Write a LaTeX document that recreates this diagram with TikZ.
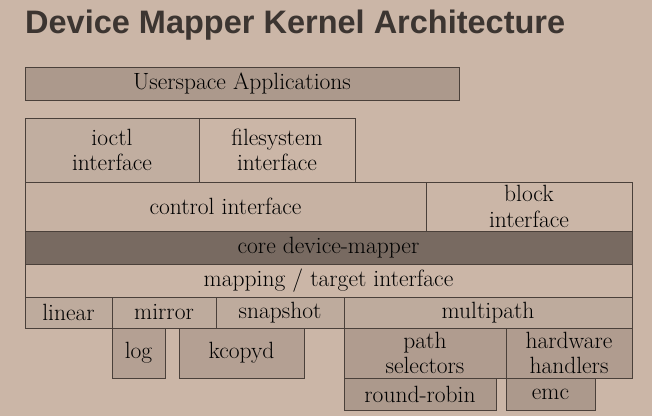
\documentclass[tikz,border=0pt]{standalone}
\usepackage{fontspec}
\newfontfamily\headfont{Liberation Sans}
\usetikzlibrary{positioning}
\definecolor{PaperTan}{HTML}{CBB6A7}
\definecolor{EdgeBrown}{HTML}{4A403A}
\definecolor{HeadGray}{HTML}{3C3531}
\definecolor{AppTan}{HTML}{AC998C}
\definecolor{IoctlTan}{HTML}{C1AEA0}
\definecolor{CtrlTan}{HTML}{C7B2A3}
\definecolor{CoreBrown}{HTML}{786A61}
\definecolor{TargetTan}{HTML}{BEAB9D}
\definecolor{HelperTan}{HTML}{B4A093}
\definecolor{PathTan}{HTML}{B09C8F}

\begin{document}
\begin{tikzpicture}[
  x=1pt, y=-1pt,
  layer/.style={draw=EdgeBrown, line width=0.9pt, inner sep=0pt, outer sep=0pt,
    anchor=north west, align=center, text=black,
    font=\rmfamily\fontsize{23.5}{25.5}\selectfont},
  heading/.style={anchor=base west, inner sep=0pt, text=HeadGray,
    font=\headfont\bfseries\fontsize{32.5}{36}\selectfont}
]
\fill[PaperTan] (0,0) rectangle (652,416);
\useasboundingbox (0,0) rectangle (652,416);

\node[heading] (title) at (25,33.5) {Device Mapper Kernel Architecture};

% userspace
\node[layer, fill=AppTan, minimum width=434pt, minimum height=33pt] (apps) at (25,67)
  {Userspace Applications};

% interfaces
\node[layer, fill=IoctlTan, minimum width=174pt, minimum height=64pt] (ioctl) at (25,118)
  {ioctl\\interface};
\node[layer, fill=PaperTan, minimum width=156pt, minimum height=64pt] (fsys) at (ioctl.north east)
  {filesystem\\interface};
\node[layer, fill=CtrlTan, minimum width=401pt, minimum height=49pt] (control) at (ioctl.south west)
  {control interface};
\node[layer, fill=PaperTan, minimum width=206pt, minimum height=49pt] (block) at (control.north east)
  {block\\interface};

% core
\node[layer, fill=CoreBrown, minimum width=607pt, minimum height=33pt] (core) at (control.south west)
  {core device-mapper};
\node[layer, fill=PaperTan, minimum width=607pt, minimum height=33pt] (mapping) at (core.south west)
  {mapping / target interface};

% targets
\node[layer, fill=TargetTan, minimum width=87pt, minimum height=31pt] (linear) at (mapping.south west)
  {linear};
\node[layer, fill=TargetTan, minimum width=104pt, minimum height=31pt] (mirror) at (linear.north east)
  {mirror};
\node[layer, fill=TargetTan, minimum width=128pt, minimum height=31pt] (snapshot) at (mirror.north east)
  {snapshot};
\node[layer, fill=TargetTan, minimum width=288pt, minimum height=31pt] (multipath) at (snapshot.north east)
  {multipath};

% helpers
\node[layer, fill=HelperTan, minimum width=53pt, minimum height=50pt] (log) at (mirror.south west)
  {log};
\node[layer, fill=HelperTan, minimum width=125pt, minimum height=50pt] (kcopyd) at (179,328)
  {kcopyd};
\node[layer, fill=PathTan, minimum width=162pt, minimum height=50pt] (selectors) at (multipath.south west)
  {path\\selectors};
\node[layer, fill=PathTan, minimum width=126pt, minimum height=50pt] (handlers) at (selectors.north east)
  {hardware\\handlers};
\node[layer, fill=AppTan, minimum width=152pt, minimum height=32pt] (robin) at (selectors.south west)
  {round-robin};
\node[layer, fill=AppTan, minimum width=89pt, minimum height=32pt] (emc) at (handlers.south west)
  {emc};

\end{tikzpicture}
\end{document}
